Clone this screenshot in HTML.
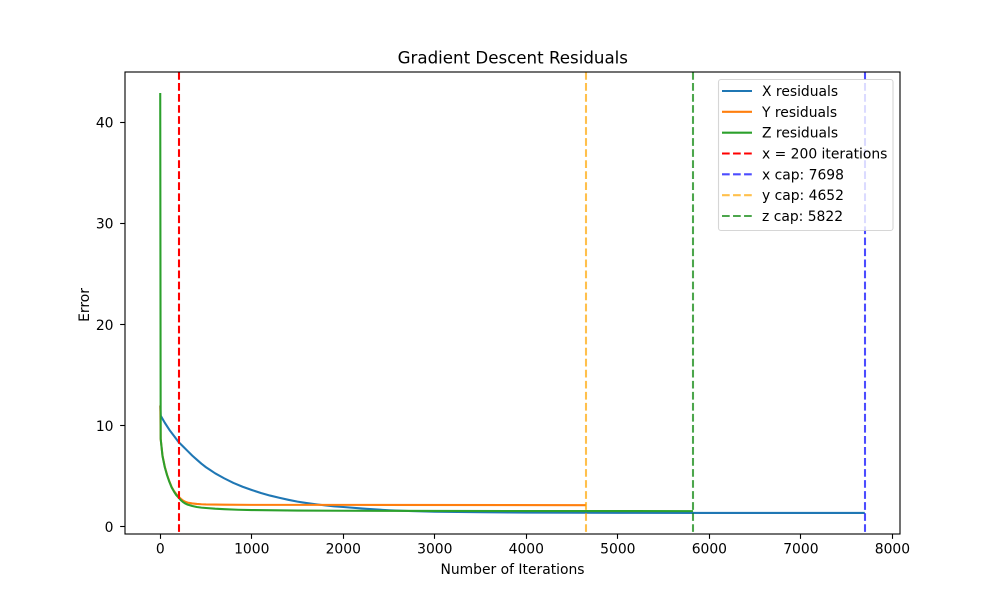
<!DOCTYPE html>
<html>
<head>
<meta charset="utf-8">
<style>
html,body{margin:0;padding:0;background:#fff;}
svg{display:block;}
text{font-family:"DejaVu Sans","Liberation Sans",sans-serif;fill:#000;}
</style>
</head>
<body>
<svg id="chart" width="1000" height="600" viewBox="0 0 1000 600" xmlns="http://www.w3.org/2000/svg">
  <rect x="0" y="0" width="1000" height="600" fill="#fff"/>
  <g id="series"></g>
  <g id="axes"></g>
  <rect x="125" y="72" width="775" height="462" fill="none" stroke="#000" stroke-width="1.11"/>
  <text x="512.8" y="63.5" font-size="16.67" text-anchor="middle">Gradient Descent Residuals</text>
  <text x="512.5" y="574" font-size="13.89" text-anchor="middle">Number of Iterations</text>
  <text transform="translate(89,305) rotate(-90)" font-size="13.89" text-anchor="middle">Error</text>
  <g id="legend"></g>
</svg>
<script>
// Axis limits and ticks
const xDomain = [-384.9, 8082.9];
const yDomain = [-0.7, 44.98];
const xTicks = [0, 1000, 2000, 3000, 4000, 5000, 6000, 7000, 8000];
const yTicks = [0, 10, 20, 30, 40];

// X residuals
const xIterations = [1, 5, 50, 100, 150, 200, 250, 300, 350, 400, 450, 500, 550, 600, 700, 800, 900, 1000, 1100, 1200, 1300, 1400, 1500, 1600, 1700, 1800, 1900, 2000, 2250, 2500, 2750, 3000, 3500, 4000, 5000, 6000, 7698];
const xResiduals = [12.0, 11.0, 10.3, 9.6, 9.0, 8.4, 7.95, 7.5, 7.05, 6.65, 6.25, 5.9, 5.6, 5.3, 4.8, 4.35, 3.97, 3.65, 3.35, 3.1, 2.88, 2.68, 2.5, 2.36, 2.24, 2.13, 2.04, 1.97, 1.79, 1.65, 1.56, 1.5, 1.45, 1.42, 1.39, 1.38, 1.38];

// Y residuals
const yIterations = [1, 5, 25, 50, 75, 100, 125, 150, 175, 200, 225, 250, 275, 300, 350, 400, 450, 500, 700, 1000, 2000, 4652];
const yResiduals = [12.0, 8.7, 7.05, 5.95, 5.15, 4.5, 3.95, 3.55, 3.25, 3.0, 2.78, 2.6, 2.48, 2.4, 2.32, 2.27, 2.24, 2.22, 2.2, 2.18, 2.18, 2.15];

// Z residuals
const zIterations = [0, 5, 25, 50, 75, 100, 125, 150, 175, 200, 225, 250, 275, 300, 350, 400, 450, 500, 600, 700, 850, 1000, 1500, 2000, 3000, 5822];
const zResiduals = [42.9, 8.7, 7.0, 5.9, 5.1, 4.45, 3.9, 3.5, 3.15, 2.9, 2.65, 2.45, 2.31, 2.2, 2.07, 1.97, 1.91, 1.87, 1.8, 1.75, 1.7, 1.67, 1.62, 1.6, 1.58, 1.56];

// Vertical reference lines
const refValues = [200, 7698, 4652, 5822];
const refLabels = ["x = 200 iterations", "x cap: 7698", "y cap: 4652", "z cap: 5822"];

const plot = {left: 125, right: 900, top: 72, bottom: 534};
const NS = "http://www.w3.org/2000/svg";
const sx = v => plot.left + (v - xDomain[0]) / (xDomain[1] - xDomain[0]) * (plot.right - plot.left);
const sy = v => plot.bottom - (v - yDomain[0]) / (yDomain[1] - yDomain[0]) * (plot.bottom - plot.top);
const snapWide = v => Math.round(v + 0.01);
const snapThin = v => Math.floor(v) + 0.5;
const make = tag => document.createElementNS(NS, tag);

const seriesLayer = document.getElementById("series");
const axesLayer = document.getElementById("axes");
const legendLayer = document.getElementById("legend");

const refStyles = [
  {color: "#ff0000", opacity: 1},
  {color: "#0000ff", opacity: 0.7},
  {color: "#ffa500", opacity: 0.7},
  {color: "#008000", opacity: 0.7}
];

function drawSeries(xs, ys, color) {
  const line = make("polyline");
  line.setAttribute("points", xs.map((x, i) => sx(x).toFixed(2) + "," + sy(ys[i]).toFixed(2)).join(" "));
  line.setAttribute("fill", "none");
  line.setAttribute("stroke", color);
  line.setAttribute("stroke-width", "2.08");
  line.setAttribute("stroke-linejoin", "round");
  return line;
}

const lineX = drawSeries(xIterations, xResiduals, "#1f77b4");


seriesLayer.appendChild(lineX);
const lineY = drawSeries(yIterations, yResiduals, "#ff7f0e");


seriesLayer.appendChild(lineY);
const lineZ = drawSeries(zIterations, zResiduals, "#2ca02c");


seriesLayer.appendChild(lineZ);

refValues.forEach((v, i) => {
  const ref = make("line");
  
  
  ref.setAttribute("x1", snapWide(sx(v)));
  ref.setAttribute("x2", snapWide(sx(v)));
  ref.setAttribute("y1", plot.top);
  ref.setAttribute("y2", plot.bottom);
  ref.setAttribute("stroke", refStyles[i].color);
  ref.setAttribute("stroke-opacity", refStyles[i].opacity);
  ref.setAttribute("stroke-width", "2.08");
  ref.setAttribute("stroke-dasharray", "7.7 3.33");
  seriesLayer.appendChild(ref);
});

xTicks.forEach(t => {
  const tick = make("line");
  
  
  tick.setAttribute("x1", snapThin(sx(t)));
  tick.setAttribute("x2", snapThin(sx(t)));
  tick.setAttribute("y1", plot.bottom);
  tick.setAttribute("y2", plot.bottom + 4.86);
  tick.setAttribute("stroke", "#000");
  tick.setAttribute("stroke-width", "1.11");
  axesLayer.appendChild(tick);
  const label = make("text");
  
  
  label.setAttribute("x", sx(t));
  label.setAttribute("y", plot.bottom + 19.5);
  label.setAttribute("font-size", "13.89");
  label.setAttribute("text-anchor", "middle");
  label.textContent = t;
  axesLayer.appendChild(label);
});

yTicks.forEach(t => {
  const tick = make("line");
  
  
  tick.setAttribute("x1", plot.left - 4.86);
  tick.setAttribute("x2", plot.left);
  tick.setAttribute("y1", snapThin(sy(t)));
  tick.setAttribute("y2", snapThin(sy(t)));
  tick.setAttribute("stroke", "#000");
  tick.setAttribute("stroke-width", "1.11");
  axesLayer.appendChild(tick);
  const label = make("text");
  
  
  label.setAttribute("x", plot.left - 11.5);
  label.setAttribute("y", sy(t) + 5.2);
  label.setAttribute("font-size", "13.89");
  label.setAttribute("text-anchor", "end");
  label.textContent = t;
  axesLayer.appendChild(label);
});

const legendBox = make("rect");


legendBox.setAttribute("x", 718.5);
legendBox.setAttribute("y", 79.5);
legendBox.setAttribute("width", 174.5);
legendBox.setAttribute("height", 151);
legendBox.setAttribute("rx", 2.5);
legendBox.setAttribute("fill", "#fff");
legendBox.setAttribute("fill-opacity", "0.8");
legendBox.setAttribute("stroke", "#ccc");
legendBox.setAttribute("stroke-opacity", "0.8");
legendBox.setAttribute("stroke-width", "1.11");
legendLayer.appendChild(legendBox);

const legendLabels = ["X residuals", "Y residuals", "Z residuals"].concat(refLabels);
const legendColors = ["#1f77b4", "#ff7f0e", "#2ca02c"].concat(refStyles.map(s => s.color));
const legendOpacity = [1, 1, 1].concat(refStyles.map(s => s.opacity));
legendLabels.forEach((name, i) => {
  const rowY = 91 + i * 20.83;
  const handle = make("line");
  
  
  handle.setAttribute("x1", 722);
  handle.setAttribute("x2", 752);
  handle.setAttribute("y1", rowY);
  handle.setAttribute("y2", rowY);
  handle.setAttribute("stroke", legendColors[i]);
  handle.setAttribute("stroke-opacity", legendOpacity[i]);
  handle.setAttribute("stroke-width", "2.08");
  if (i > 2) handle.setAttribute("stroke-dasharray", "7.7 3.33");
  legendLayer.appendChild(handle);
  const text = make("text");
  
  
  text.setAttribute("x", 762);
  text.setAttribute("y", rowY + 5);
  text.setAttribute("font-size", "13.89");
  text.textContent = name;
  legendLayer.appendChild(text);
});
</script>
</body>
</html>
